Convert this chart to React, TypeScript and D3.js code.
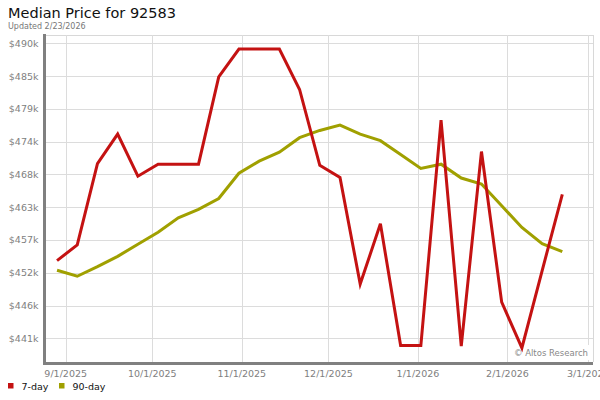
import React from "react";
import * as d3 from "d3";

const dates = [
  "2025-08-29", "2025-09-05", "2025-09-12", "2025-09-19", "2025-09-26",
  "2025-10-03", "2025-10-10", "2025-10-17", "2025-10-24", "2025-10-31",
  "2025-11-07", "2025-11-14", "2025-11-21", "2025-11-28", "2025-12-05",
  "2025-12-12", "2025-12-19", "2025-12-26", "2026-01-02", "2026-01-09",
  "2026-01-16", "2026-01-23", "2026-01-30", "2026-02-06", "2026-02-13",
  "2026-02-20",
];

const sevenDay = [
  453900, 456500, 470000, 474900, 467900, 469900, 469900, 469900, 484400, 489000,
  489000, 489000, 482300, 469700, 467700, 450000, 460000, 439800, 439800, 477200,
  439700, 472000, 447000, 439400, 452200, 464900,
];

const ninetyDay = [
  452300, 451300, 452900, 454600, 456600, 458600, 461000, 462400, 464200, 468400,
  470400, 471900, 474300, 475500, 476400, 474900, 473800, 471500, 469200, 469900,
  467600, 466600, 463000, 459400, 456700, 455400,
];

const yTicks = [441000, 446440, 451880, 457320, 462760, 468200, 473640, 479080, 484520, 489960];
const xTicks = ["2025-09-01", "2025-10-01", "2025-11-01", "2025-12-01", "2026-01-01", "2026-02-01", "2026-03-01"];

const series = [
  { name: "7-day", values: sevenDay, color: "#c41212" },
  { name: "90-day", values: ninetyDay, color: "#a0a000" },
];

export default function App() {
  const W = 600, H = 400;
  const left = 46, right = 593, top = 35, bottom = 362;
  const x = d3.scaleUtc()
    .domain([new Date("2025-09-01T00:00:00Z"), new Date("2026-03-01T00:00:00Z")])
    .range([65.7, 588.3]);
  const y = d3.scaleLinear().domain([437070, 491340]).range([bottom, top]);
  const parse = (s: string) => new Date(s + "T00:00:00Z");
  const fmtX = d3.utcFormat("%-m/%-d/%Y");
  const fmtY = (v: number) => "$" + Math.round(v / 1000) + "k";
  const font = "DejaVu Sans, Verdana, sans-serif";

  const line = d3.line<number>()
    .x((_, i) => x(parse(dates[i])))
    .y((v) => y(v));

  return (
    <svg width={W} height={H} style={{ position: "absolute", left: 0, top: 0, background: "#fff" }}
      fontFamily={font}>
      <rect x={0} y={0} width={W} height={H} fill="#fff" />
      <text x={8} y={18} fontSize={14.5} fill="#111">Median Price for 92583</text>
      <text x={8} y={28.5} fontSize={8} fill="#777">Updated 2/23/2026</text>

      {/* plot border */}
      <line x1={left} x2={right} y1={top + 0.5} y2={top + 0.5} stroke="#d8d8d8" />
      <line x1={right + 0.5} x2={right + 0.5} y1={top} y2={bottom} stroke="#d8d8d8" />

      {/* grid */}
      {yTicks.map((t) => (
        <line key={"gy" + t} x1={left} x2={right} y1={Math.round(y(t)) + 0.5} y2={Math.round(y(t)) + 0.5} stroke="#dcdcdc" />
      ))}
      {xTicks.map((t) => (
        <line key={"gx" + t} x1={Math.round(x(parse(t))) + 0.5} x2={Math.round(x(parse(t))) + 0.5} y1={top} y2={bottom} stroke="#dcdcdc" />
      ))}

      {/* watermark */}
      <rect x={514} y={345} width={76} height={15} fill="#fff" />
      <text x={588} y={356} fontSize={8.5} fill="#888" textAnchor="end">© Altos Research</text>

      {/* lines */}
      {series.slice().reverse().map((s) => (
        <path key={s.name} d={line(s.values) || ""} fill="none" stroke={s.color} strokeWidth={3} strokeLinejoin="miter" />
      ))}

      {/* axes */}
      <rect x={43} y={34} width={3} height={331} fill="#808080" />
      <rect x={43} y={362} width={550} height={3} fill="#808080" />

      {/* y tick labels */}
      {yTicks.map((t) => (
        <text key={"ty" + t} x={38.5} y={y(t) + 3.5} fontSize={9.5} fill="#808080" textAnchor="end">{fmtY(t)}</text>
      ))}
      {/* x tick labels */}
      {xTicks.map((t) => (
        <text key={"tx" + t} x={x(parse(t))} y={376.5} fontSize={9.5} fill="#808080" textAnchor="middle">{fmtX(parse(t))}</text>
      ))}

      {/* legend */}
      <rect x={8} y={383} width={5.5} height={5.5} fill={series[0].color} />
      <text x={21.5} y={389.5} fontSize={9.5} fill="#111">7-day</text>
      <rect x={59} y={383} width={5.5} height={5.5} fill={series[1].color} />
      <text x={72.5} y={389.5} fontSize={9.5} fill="#111">90-day</text>
    </svg>
  );
}
